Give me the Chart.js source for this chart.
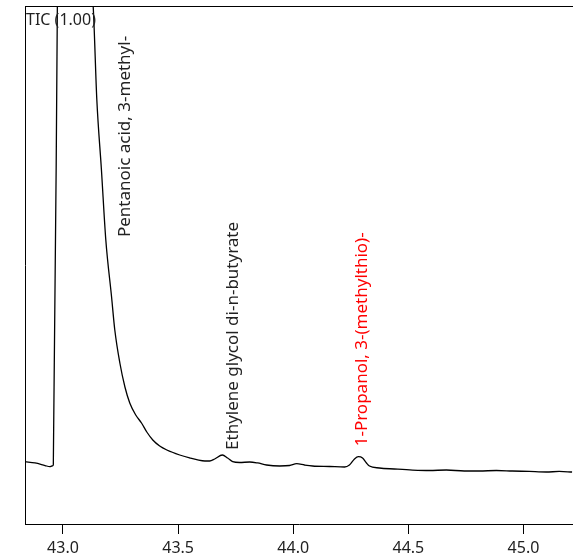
<!DOCTYPE html>
<html>
<head>
<meta charset="utf-8">
<script src="https://cdn.jsdelivr.net/npm/chart.js@4.4.1/dist/chart.umd.min.js"></script>
<style>
html, body { margin: 0; padding: 0; background: #fff; }
#wrap { width: 573px; height: 558px; }
</style>
</head>
<body>
<div id="wrap"><canvas id="ticChart"></canvas></div>
<script>
// --- DATA ---
const retentionTimes = [
    42.835, 42.878, 42.922, 42.943, 42.952, 42.958, 42.978, 43.040, 43.110, 43.131,
    43.147, 43.167, 43.186, 43.211, 43.225, 43.247, 43.269, 43.290, 43.316, 43.341,
    43.364, 43.390, 43.420, 43.451, 43.507, 43.551, 43.585, 43.616, 43.637, 43.659,
    43.692, 43.715, 43.737, 43.767, 43.811, 43.845, 43.884, 43.941, 43.984, 44.015,
    44.049, 44.084, 44.158, 44.223, 44.244, 44.266, 44.283, 44.301, 44.318, 44.331,
    44.374, 44.439, 44.518, 44.591, 44.665, 44.743, 44.808, 44.882, 44.951, 45.025,
    45.099, 45.155, 45.211
];
const intensities = [
    12.03, 11.78, 11.29, 11.06, 11.20, 11.39, 115, 330, 112, 100,
    81.85, 68.34, 54.83, 43.82, 37.45, 31.08, 26.45, 23.36, 21.04, 19.50,
    17.76, 16.22, 15.06, 14.29, 13.32, 12.74, 12.36, 12.16, 12.16, 12.55,
    13.32, 12.74, 12.03, 11.87, 11.97, 11.78, 11.39, 11.20, 11.29, 11.64,
    11.39, 11.20, 11.10, 11.00, 11.39, 12.55, 12.99, 12.74, 11.78, 11.20,
    10.81, 10.62, 10.42, 10.33, 10.42, 10.23, 10.23, 10.33, 10.23, 10.14,
    10.04, 10.14, 10.04
];
const peakNames = ['Pentanoic acid, 3-methyl-', 'Ethylene glycol di-n-butyrate', '1-Propanol, 3-(methylthio)-'];
const peakTimes = [43.269, 43.737, 44.301];
const peakLabelLevels = [55.4, 14.3, 15.0];
const peakColors = ['#222', '#222', '#ff0000'];
const majorTicks = [43.0, 43.5, 44.0, 44.5, 45.0];
const traceTitle = 'TIC (1.00)';

const FONT = '"Noto Sans", "Open Sans", sans-serif';
const isMajor = v => majorTicks.some(m => Math.abs(m - v) < 1e-6);

// minor ticks, frame top line and peak annotations
const decorations = {
    id: 'decorations',
    afterDraw(chart) {
        const { ctx, chartArea, scales: { x, y } } = chart;
        ctx.save();
        ctx.strokeStyle = '#000';
        ctx.lineWidth = 1;
        ctx.beginPath();
        ctx.moveTo(chartArea.left, chartArea.top + 0.5);
        ctx.lineTo(chartArea.right, chartArea.top + 0.5);
        ctx.stroke();

        x.ticks.forEach(t => {
            if (isMajor(t.value)) return;
            const px = Math.round(x.getPixelForValue(t.value)) + 0.5;
            ctx.beginPath();
            ctx.moveTo(px, chartArea.bottom);
            ctx.lineTo(px, chartArea.bottom + 5);
            ctx.stroke();
        });

        ctx.font = '16px ' + FONT;
        ctx.fillStyle = '#222';
        ctx.textBaseline = 'alphabetic';
        ctx.fillText(traceTitle, chartArea.left + 1, chartArea.top + 19);

        ctx.font = '17px ' + FONT;
        peakNames.forEach((name, i) => {
            ctx.save();
            ctx.translate(x.getPixelForValue(peakTimes[i]), y.getPixelForValue(peakLabelLevels[i]));
            ctx.rotate(-Math.PI / 2);
            ctx.textAlign = 'left';
            ctx.textBaseline = 'middle';
            ctx.fillStyle = peakColors[i];
            ctx.fillText(name, 0, 0);
            ctx.restore();
        });
        ctx.restore();
    }
};

new Chart(document.getElementById('ticChart'), {
    type: 'line',
    data: {
        labels: retentionTimes,
        datasets: [{
            data: retentionTimes.map((t, i) => ({ x: t, y: intensities[i] })),
            borderColor: '#000',
            borderWidth: 1.3,
            pointRadius: 0,
            cubicInterpolationMode: 'monotone',
            fill: false
        }]
    },
    options: {
        responsive: true,
        maintainAspectRatio: false,
        animation: false,
        layout: { padding: { top: 6, right: 0, left: 0, bottom: 0 } },
        plugins: { legend: { display: false }, tooltip: { enabled: false } },
        scales: {
            x: {
                type: 'linear',
                min: 42.835,
                max: 45.215,
                afterFit(scale) { scale.height = 34; },
                grid: {
                    drawOnChartArea: false,
                    drawTicks: true,
                    tickLength: 10,
                    tickColor: c => isMajor(c.tick.value) ? '#000' : 'rgba(0,0,0,0)'
                },
                border: { display: true, color: '#000', width: 1 },
                ticks: {
                    stepSize: 0.1,
                    includeBounds: false,
                    autoSkip: false,
                    maxRotation: 0,
                    padding: 5,
                    color: '#222',
                    font: { family: FONT, size: 16 },
                    callback: v => isMajor(v) ? v.toFixed(1) : null
                }
            },
            y: {
                min: 0,
                max: 100,
                afterFit(scale) { scale.width = 25; },
                grid: { display: false },
                border: { display: true, color: '#000', width: 1 },
                ticks: { display: false }
            }
        }
    },
    plugins: [decorations]
});
</script>
</body>
</html>
